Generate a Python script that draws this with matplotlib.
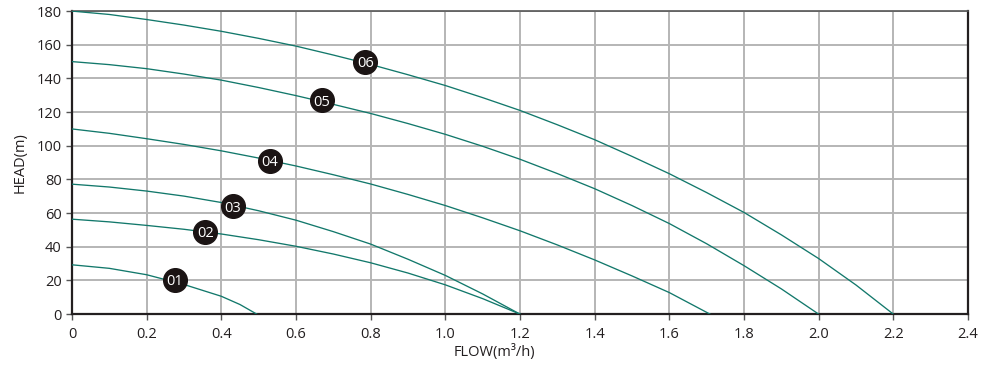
import matplotlib.pyplot as plt

plt.rcParams['font.family'] = ['Open Sans', 'DejaVu Sans']

# pump curves: flow (m3/h) vs head (m)
flow_01 = [0, 0.1, 0.2, 0.3, 0.4, 0.45, 0.495]
head_01 = [29.3, 27.2, 23.4, 17.6, 10.6, 5.7, 0]

flow_02 = [0, 0.1, 0.2, 0.3, 0.4, 0.5, 0.6, 0.7, 0.8, 0.9, 1.0, 1.1, 1.2]
head_02 = [56.4, 54.8, 52.7, 50.4, 47.6, 44.2, 40.3, 35.7, 30.5, 24.4, 17.4, 9.2, 0]

flow_03 = [0, 0.1, 0.2, 0.3, 0.4, 0.5, 0.6, 0.7, 0.8, 0.9, 1.0, 1.1, 1.2]
head_03 = [77.2, 75.5, 73.1, 70.1, 66.3, 61.4, 55.8, 49.0, 41.6, 32.6, 23.0, 12.0, 0]

flow_04 = [0, 0.1, 0.2, 0.3, 0.4, 0.5, 0.6, 0.7, 0.8, 0.9, 1.0, 1.1, 1.2,
           1.3, 1.4, 1.5, 1.6, 1.709]
head_04 = [110, 107.4, 104.2, 100.8, 97.0, 92.7, 88.0, 82.8, 77.3, 71.1, 64.5,
           57.2, 49.5, 41.1, 32.2, 22.7, 12.8, 0]

flow_05 = [0, 0.1, 0.2, 0.3, 0.4, 0.5, 0.6, 0.7, 0.8, 0.9, 1.0, 1.1, 1.2,
           1.3, 1.4, 1.5, 1.6, 1.7, 1.8, 1.9, 2.0]
head_05 = [150, 148.2, 145.8, 142.6, 139.0, 134.6, 129.8, 124.6, 119.2, 113.2,
           106.8, 99.7, 92.0, 83.5, 74.5, 64.5, 53.8, 41.8, 28.8, 15.0, 0]

flow_06 = [0, 0.1, 0.2, 0.3, 0.4, 0.5, 0.6, 0.7, 0.8, 0.9, 1.0, 1.1, 1.2,
           1.3, 1.4, 1.5, 1.6, 1.7, 1.8, 1.9, 2.0, 2.1, 2.2]
head_06 = [180, 178.0, 175.0, 171.7, 168.0, 163.8, 159.2, 153.9, 148.3, 142.2,
           135.8, 128.6, 121.0, 112.5, 103.6, 93.7, 83.4, 72.2, 60.4, 47.1,
           33.0, 17.3, 0]

labels = ['01', '02', '03', '04', '05', '06']
label_x = [0.276, 0.357, 0.43, 0.53, 0.67, 0.786]
label_y = [20.4, 49, 64, 91, 127, 150]

x_ticks = [0, 0.2, 0.4, 0.6, 0.8, 1.0, 1.2, 1.4, 1.6, 1.8, 2.0, 2.2, 2.4]
x_tick_labels = ['0', '0.2', '0.4', '0.6', '0.8', '1.0', '1.2', '1.4', '1.6',
                 '1.8', '2.0', '2.2', '2.4']
y_ticks = [0, 20, 40, 60, 80, 100, 120, 140, 160, 180]

fig = plt.figure(figsize=(10, 3.7), dpi=100)
ax = fig.add_axes([0.072, 0.151, 0.896, 0.819])

line_color = '#12786b'
curves = [(flow_01, head_01), (flow_02, head_02), (flow_03, head_03),
          (flow_04, head_04), (flow_05, head_05), (flow_06, head_06)]
for fx, hy in curves:
    ax.plot(fx, hy, color=line_color, lw=0.95, zorder=3)

# numbered badges on the curves
for lab, lx, ly in zip(labels, label_x, label_y):
    ax.scatter(lx, ly, s=290, color='#1b1414', zorder=4)
    ax.text(lx, ly, lab, color='white', fontsize=10.5, ha='center',
            va='center_baseline', zorder=5)

ax.set_xlim(0, 2.4)
ax.set_ylim(0, 180)
ax.set_xticks(x_ticks)
ax.set_xticklabels(x_tick_labels)
ax.set_yticks(y_ticks)
ax.tick_params(labelsize=10.5, length=4, width=1, color='#555555',
               colors='#231f20')
ax.tick_params(axis='x', pad=5)
ax.grid(True, color='#b5b5b5', lw=1.4, zorder=0)
ax.set_axisbelow(True)

for side in ['left', 'bottom', 'right']:
    ax.spines[side].set_color('#231f20')
    ax.spines[side].set_linewidth(1.6)
ax.spines['top'].set_color('#555555')
ax.spines['top'].set_linewidth(1.2)

ax.set_xlabel('FLOW(m³/h)', fontsize=10.5, color='#231f20')
ax.xaxis.set_label_coords(0.472, -0.098)
ax.set_ylabel('HEAD(m)', fontsize=10.5, color='#231f20', labelpad=6)

fig.savefig('out.png', dpi=100)
